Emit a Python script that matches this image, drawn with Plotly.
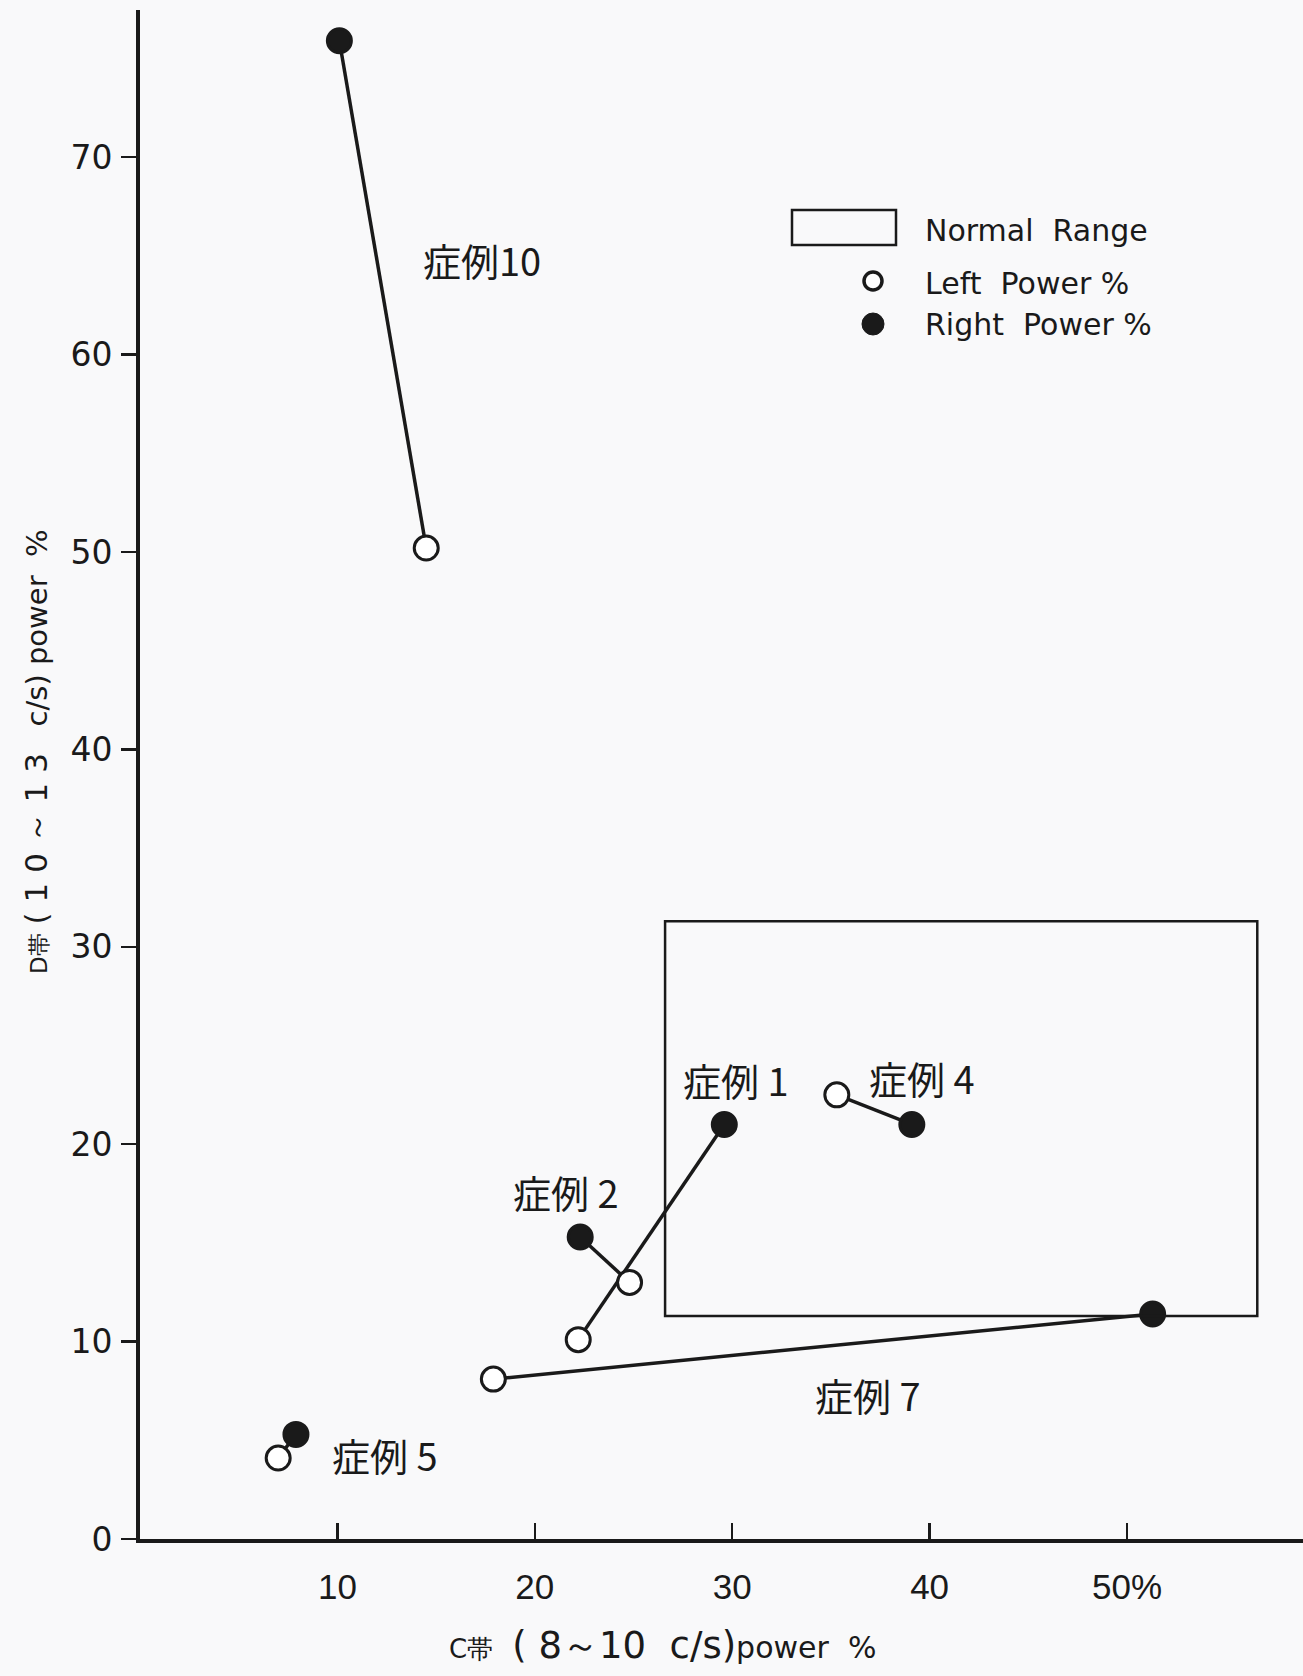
import plotly.graph_objects as go

# ---- data ----
cases   = ["症例 1", "症例 2", "症例 4", "症例 5", "症例 7", "症例10"]
left_x  = [22.2, 24.8, 35.3, 7.0, 17.9, 14.5]   # C-band power % (Left)
left_y  = [10.1, 13.0, 22.5, 4.1, 8.1, 50.2]    # D-band power % (Left)
right_x = [29.6, 22.3, 39.1, 7.9, 51.3, 10.1]   # C-band power % (Right)
right_y = [21.0, 15.3, 21.0, 5.3, 11.4, 75.9]   # D-band power % (Right)

label_x = [30.2, 21.6, 39.6, 12.4, 36.9, 17.3]
label_y = [23.3, 17.6, 23.4, 4.3, 7.3, 64.8]

normal_x = [26.6, 56.6]
normal_y = [11.3, 31.3]

x_ticks = [10, 20, 30, 40, 50]
x_tick_text = ["10", "20", "30", "40", "50%"]
y_ticks = [0, 10, 20, 30, 40, 50, 60, 70]

# ---- layout constants ----
W, H = 1303, 1676
ML, MR, MT, MB = 140, 0, 10, 137
PW, PH = W - ML - MR, H - MT - MB

def px(x):
    return (x - ML) / PW

def py(y):
    return (H - MB - y) / PH

FONT = "Liberation Sans, Arial, sans-serif"
ROUND = "DejaVu Sans, sans-serif"
CJK = "Noto Sans CJK JP, sans-serif"
INK = "#1a1a1a"

fig = go.Figure()

for i, name in enumerate(cases):
    fig.add_trace(go.Scatter(
        x=[left_x[i], right_x[i]], y=[left_y[i], right_y[i]],
        mode="lines+markers", name=name, showlegend=False,
        line=dict(color=INK, width=3.5),
        marker=dict(size=24, color=["white", INK], line=dict(color=INK, width=3)),
        cliponaxis=False, hoverinfo="skip",
    ))

# normal range box
fig.add_shape(type="rect", xref="x", yref="y",
              x0=normal_x[0], x1=normal_x[1], y0=normal_y[0], y1=normal_y[1],
              line=dict(color=INK, width=2.5), fillcolor="rgba(0,0,0,0)")

# case labels
for i, name in enumerate(cases):
    fig.add_annotation(x=label_x[i], y=label_y[i], xref="x", yref="y",
                       text=name, showarrow=False,
                       font=dict(family=CJK, size=38, color=INK))

# legend (drawn manually)
fig.add_shape(type="rect", xref="paper", yref="paper",
              x0=px(792), x1=px(896), y0=py(245), y1=py(210),
              line=dict(color=INK, width=2.5))
fig.add_shape(type="circle", xref="paper", yref="paper",
              xsizemode="pixel", ysizemode="pixel",
              xanchor=px(873), yanchor=py(281), x0=-9, x1=9, y0=-9, y1=9,
              line=dict(color=INK, width=3.5), fillcolor="white")
fig.add_shape(type="circle", xref="paper", yref="paper",
              xsizemode="pixel", ysizemode="pixel",
              xanchor=px(873), yanchor=py(324), x0=-11, x1=11, y0=-11, y1=11,
              line=dict(color=INK, width=1), fillcolor=INK)
for txt, yy in [("Normal  Range", 230), ("Left  Power %", 283), ("Right  Power %", 325)]:
    fig.add_annotation(x=px(923), y=py(yy), xref="paper", yref="paper",
                       xanchor="left", yanchor="middle", showarrow=False,
                       text=txt, font=dict(family=ROUND, size=30, color=INK))

# axis titles
fig.add_annotation(x=px(662), y=py(1645), xref="paper", yref="paper",
                   showarrow=False, xanchor="center", yanchor="middle",
                   text=("<span style='font-size:26px'>C帯</span>  "
                         "<span style='font-size:37px'>( 8～10  c/s)</span>"
                         "<span style='font-size:30px'>power  %</span>"),
                   font=dict(family=ROUND, size=30, color=INK))
fig.add_annotation(x=px(36), y=py(752), xref="paper", yref="paper",
                   showarrow=False, xanchor="center", yanchor="middle", textangle=-90,
                   text=("<span style='font-size:23px'>D帯</span> "
                         "<span style='font-size:31px'>( 1 0 ～ 1 3</span>   "
                         "<span style='font-size:29px'>c/s) power  %</span>"),
                   font=dict(family=ROUND, size=28, color=INK))

fig.update_layout(
    width=W, height=H, autosize=False,
    margin=dict(l=ML, r=MR, t=MT, b=MB),
    paper_bgcolor="#f9f9fa", plot_bgcolor="#f9f9fa",
    showlegend=False, hovermode=False,
    xaxis=dict(range=[0, PW / 19.74], showgrid=False, zeroline=False,
               showline=True, linecolor=INK, linewidth=4,
               ticks="inside", ticklen=16, tickwidth=2.5, tickcolor=INK,
               tickvals=x_ticks, ticktext=x_tick_text, ticklabelstandoff=14,
               tickfont=dict(family=FONT, size=35, color=INK)),
    yaxis=dict(range=[0, PH / 19.74], showgrid=False, zeroline=False,
               showline=True, linecolor=INK, linewidth=4,
               ticks="outside", ticklen=15, tickwidth=2.5, tickcolor=INK,
               tickvals=y_ticks, ticklabelstandoff=2,
               tickfont=dict(family=ROUND, size=33, color=INK)),
)

fig.write_html("out.html",
               config={"displayModeBar": False, "staticPlot": True},
               post_script="document.body.style.margin='0';document.body.style.background='#f9f9fa';")
